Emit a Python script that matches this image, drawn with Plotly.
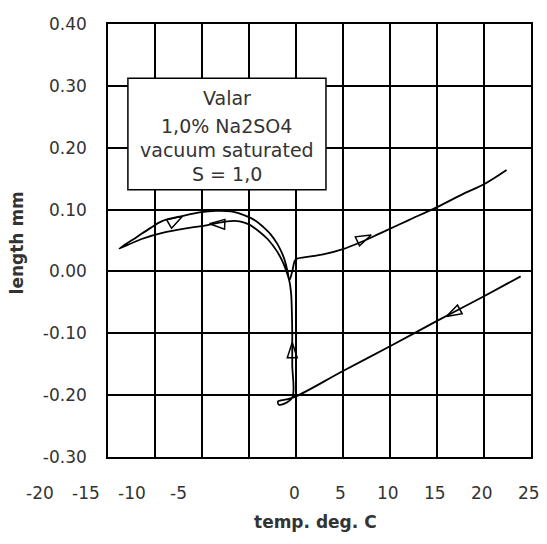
import plotly.graph_objects as go

# ---- data ----
# cooling from +24 C, supercooling, ice formation, cooling to -19 C, warming back, thaw, warming to +22 C
path_x = [23.9, 20, 15, 10, 5, 0, -1.0, -1.9, -1.85, -1.3, -0.4,
          -0.4, -0.4, -0.45, -0.5, -0.6, -0.7,
          -0.95, -1.4, -2.0, -3.0, -3.8, -5.0, -6.0, -7.3, -9.4, -11.5, -14.0, -16.5, -18.8,
          -17.0, -15.5, -14.3, -12.0, -10.1, -8.5, -6.9, -5.2, -4.3, -3.5, -2.7, -2.0, -1.5, -1.2, -0.9, -0.7,
          -0.4, -0.1, 0.2, 1, 3, 5, 7, 9, 12, 15, 18, 20, 22.4]
path_y = [-0.008, -0.040, -0.080, -0.121, -0.161, -0.202, -0.207, -0.210, -0.215, -0.214, -0.204,
          -0.15, -0.10, -0.06, -0.04, -0.025, -0.016,
          -0.003, 0.015, 0.032, 0.052, 0.063, 0.076, 0.081, 0.081, 0.075, 0.070, 0.063, 0.052, 0.037,
          0.055, 0.070, 0.081, 0.090, 0.096, 0.098, 0.097, 0.089, 0.082, 0.072, 0.060, 0.045, 0.030, 0.018, 0.000, -0.014,
          0.000, 0.018, 0.021, 0.023, 0.028, 0.036, 0.048, 0.062, 0.083, 0.104, 0.127, 0.141, 0.164]

# arrow tips along the path
arrow_x = [8.0, 16.0, -0.4, -12.1, -9.2]
arrow_y = [0.059, -0.073, -0.115, 0.089, 0.077]
arrow_angle = [65, 242, 0, 60, 272]

box_lines = ["Valar", "1,0% Na2SO4", "vacuum saturated", "S = 1,0"]

xtick_vals = [-20, -15, -10, -5, 0, 5, 10, 15, 20, 25]
xtick_text = ["-20", "-15", "-10", "-5", "0", "5", "10", "15", "20", "25"]
# where the printed labels sit (pixels from the plot's left edge)
xlabel_px = [-68, -22, 24, 71, 187, 234, 281, 329, 376, 423]
ytick_vals = [-0.3, -0.2, -0.1, 0.0, 0.1, 0.2, 0.3, 0.4]
ytick_text = ["-0.30", "-0.20", "-0.10", "0.00", "0.10", "0.20", "0.30", "0.40"]

FONT = "DejaVu Sans"
TXT = "#333"
PW, PH = 425, 439  # plot area size in px

fig = go.Figure()
fig.add_trace(go.Scatter(x=path_x, y=path_y, mode="lines",
                         line=dict(color="black", width=1.8), line_shape="spline",
                         showlegend=False, hoverinfo="skip"))
fig.add_trace(go.Scatter(x=arrow_x, y=arrow_y, mode="markers",
                         marker=dict(symbol="arrow-open", size=16, angle=arrow_angle,
                                     color="black", line=dict(color="black", width=1.5)),
                         showlegend=False, hoverinfo="skip"))

# text box
fig.add_shape(type="rect", xref="paper", yref="paper",
              x0=20 / PW, x1=219 / PW,
              y0=(PH - 168) / PH, y1=(PH - 55) / PH,
              line=dict(color="black", width=1.5), fillcolor="white", layer="above")
line_px = [75, 103, 128, 152]
for txt, py in zip(box_lines, line_px):
    fig.add_annotation(text=txt, xref="paper", yref="paper",
                       x=119.5 / PW, y=(PH - py) / PH,
                       xanchor="center", yanchor="middle", showarrow=False,
                       font=dict(family=FONT, size=19, color=TXT))

# x tick labels
for px, txt in zip(xlabel_px, xtick_text):
    fig.add_annotation(text=txt, x=px / PW, xref="paper", yref="paper", y=-36 / PH,
                       xanchor="center", yanchor="middle", showarrow=False,
                       font=dict(family=FONT, size=17, color=TXT))

# axis titles
fig.add_annotation(text="<b>temp. deg. C</b>", xref="paper", yref="paper",
                   x=208 / PW, y=-66 / PH,
                   xanchor="center", yanchor="middle", showarrow=False,
                   font=dict(family=FONT, size=17, color=TXT))
fig.add_annotation(text="<b>length mm</b>", xref="paper", yref="paper",
                   x=-91 / PW, y=(PH - 222) / PH, textangle=-90,
                   xanchor="center", yanchor="middle", showarrow=False,
                   font=dict(family=FONT, size=17, color=TXT))

fig.update_xaxes(range=[-20, 25], tickvals=xtick_vals, showticklabels=False,
                 showgrid=True, gridcolor="black", gridwidth=1.5, zeroline=False,
                 showline=True, linecolor="black", linewidth=1.5, mirror=True, ticks="")
fig.update_yaxes(range=[-0.3, 0.4], tickvals=ytick_vals, ticktext=ytick_text,
                 showgrid=True, gridcolor="black", gridwidth=1.5, zeroline=False,
                 showline=True, linecolor="black", linewidth=1.5, mirror=True, ticks="",
                 ticklabelstandoff=16, ticklabeloverflow="allow",
                 tickfont=dict(family=FONT, size=17, color=TXT))

# page body has an 8px margin, so the figure is made 16px smaller and margins shifted
fig.update_layout(width=531, height=528, margin=dict(l=100, r=6, t=10, b=79),
                  plot_bgcolor="white", paper_bgcolor="white", showlegend=False)

fig.write_html("out.html")
